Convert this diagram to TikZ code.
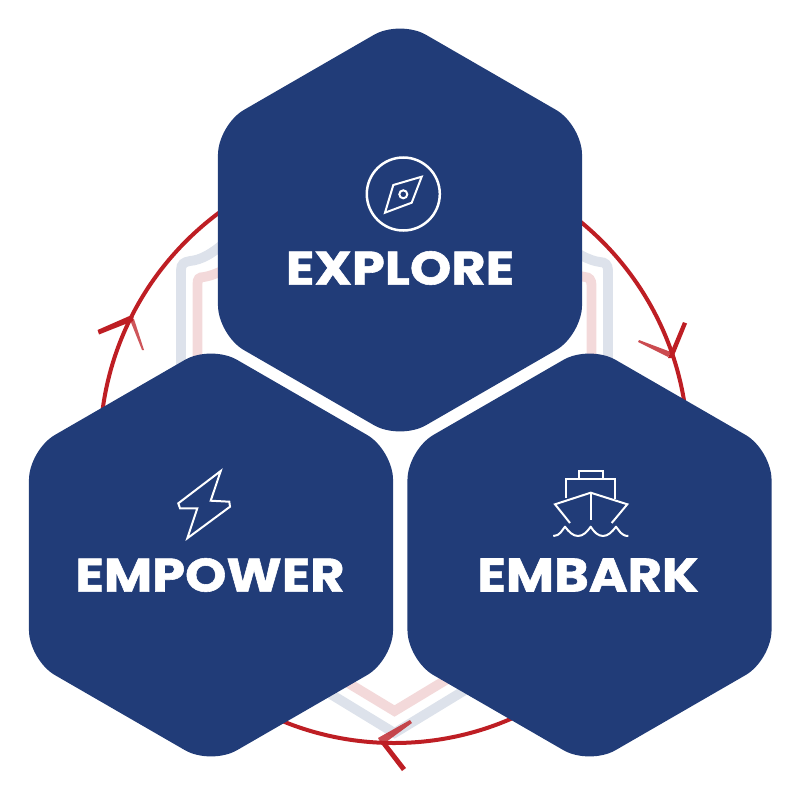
\documentclass[tikz,border=0pt]{standalone}
\usepackage{fontspec}
\usepackage{tikz}
\usetikzlibrary{shapes.geometric}
\newfontfamily\labelfont{Poppins}[FakeStretch=1.12,BoldFeatures={FakeBold=1.2}]
\definecolor{hexblue}{HTML}{213C78}
\definecolor{ringred}{HTML}{BE1E24}
\definecolor{shieldblue}{HTML}{DDE2EB}
\definecolor{shieldpink}{HTML}{F3D9DA}
\tikzset{
	hexbox/.style={regular polygon,regular polygon sides=6,regular polygon rotate=30,minimum size=420.4pt,inner sep=0pt,outer sep=0pt,fill=hexblue,rounded corners=30pt},
	hexlabel/.style={text=white,inner sep=0pt,font=\labelfont\bfseries\fontsize{47}{47}\selectfont},
	iconline/.style={draw=white,line width=2pt,line join=miter},
	barb/.style={fill=ringred,draw=none}
}

\begin{document}
\begin{tikzpicture}[x=1pt,y=-1pt]
	\useasboundingbox (0,0) rectangle (800,800);

	% shield behind the hexagons
	\draw[shieldblue,line width=9.8pt] (394.5,733) -- (181,603) -- (181,270) .. controls (181,264) and (184,262) .. (190,261) .. controls (201,260) and (212,254) .. (228,240) -- (560,240) .. controls (574,253) and (590,261) .. (600,262) .. controls (605,262) and (608,265) .. (608,270) -- (608,603) -- cycle;
	\draw[shieldpink,line width=9.8pt] (394.5,711) -- (197.5,592) -- (197.5,284) .. controls (197.5,279) and (199,277) .. (204,277) .. controls (209,276) and (214,275) .. (228,268) -- (560,268) .. controls (572,274) and (578,276) .. (585,277) .. controls (589,277) and (591.5,280) .. (591.5,285) -- (591.5,592) -- cycle;

	% ring and its arrows
	\draw[ringred,line width=4pt] (394,449) circle (294);
	\fill[barb] (134,314) -- (97.5,330) -- (99,334.5) -- (133,321) -- cycle;
	\fill[barb,opacity=.75] (130,320) -- (134,319) -- (144,350) -- (142,350) -- cycle;
	\fill[barb] (668,358) -- (683,322) -- (687,323.5) -- (673,358) -- cycle;
	\fill[barb,opacity=.8] (671,352) -- (639,340) -- (638,342) -- (668,357) -- cycle;
	\fill[barb] (379,741) -- (402,771) -- (406,768) -- (385,741) -- cycle;
	\fill[barb,opacity=.8] (378,738) -- (410,720) -- (412,723) -- (382,745) -- cycle;

	% hexagons
	\node[hexbox] (explore) at (400,230) {};
	\node[hexbox] (empower) at (211,555) {};
	\node[hexbox] (embark) at (589.5,555) {};

	\node[hexlabel] (explorelabel) at (400,268) {EXPLORE};
	\node[hexlabel] (empowerlabel) at (210,575) {EMPOWER};
	\node[hexlabel] (embarklabel) at (588,575) {EMBARK};

	% compass
	\draw[iconline,line width=2.5pt] (403.3,194) circle (36.5);
	\draw[iconline] (421.7,176.7) -- (393.3,185) -- (385,212.7) -- (411.7,202.7) -- cycle;
	\draw[iconline] (403.3,194.3) circle (4);

	% ship
	\draw[iconline] (579,478.5) -- (579,470.5) -- (602.7,470.5) -- (602.7,478.5);
	\draw[iconline] (566,498) -- (566,479) -- (615,479) -- (615,499);
	\draw[iconline] (570,523) -- (555,504.3) -- (590.7,492.7) -- (627.3,504.3) -- (611.7,523);
	\draw[iconline] (590.7,492.7) -- (590.7,520);
	\draw[iconline,line join=round] (553.3,536) .. controls (560,536) and (562,530) .. (565,526.7) .. controls (569,532) and (573,536) .. (578,536) .. controls (583,536) and (587,532) .. (590.7,526.7) .. controls (594,532) and (598,536) .. (603,536) .. controls (608,536) and (612,532) .. (616,526.7) .. controls (619,530) and (621,536) .. (628.3,536);

	% bolt
	\draw[iconline] (220.7,471) -- (178.3,503.3) -- (180,508.3) -- (197.3,508.3) -- (187.3,538.3) -- (230,506.7) -- (229.3,501.7) -- (210.7,500.7) -- cycle;
\end{tikzpicture}
\end{document}
